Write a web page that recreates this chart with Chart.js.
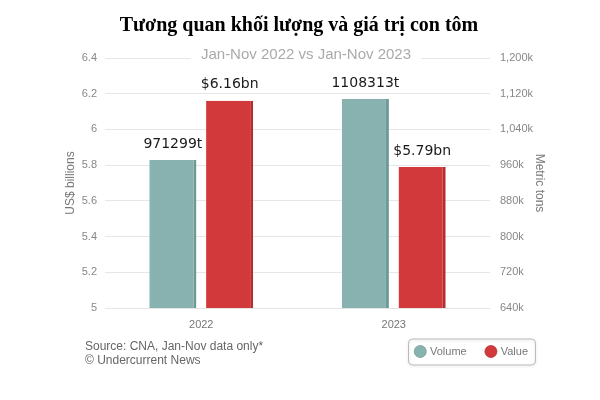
<!DOCTYPE html>
<html>
<head>
<meta charset="utf-8">
<script src="https://cdn.jsdelivr.net/npm/chart.js@4/dist/chart.umd.min.js"></script>
<style>
  html, body { margin: 0; padding: 0; background: #fff; }
  #wrap { width: 600px; height: 400px; }
</style>
</head>
<body>
<div id="wrap"><canvas id="myChart" width="600" height="400"></canvas></div>
<script>
// datos
const anios = ['2022', '2023'];
const volumen = [971299, 1108313];      // toneladas
const valor = [6.16, 5.79];             // US$ billones
const etiquetasVolumen = ['971299t', '1108313t'];
const etiquetasValor = ['$6.16bn', '$5.79bn'];
const titulo = 'Tương quan khối lượng và giá trị con tôm';
const subtitulo = 'Jan-Nov 2022 vs Jan-Nov 2023';
const fuente = ['Source: CNA, Jan-Nov data only*', '\u00A9 Undercurrent News'];

const colores = ['#88b2b0', '#d1393b'];
const lados = ['#6f9997', '#b42d2f'];   // cara lateral

// etiquetas encima de las barras, subtitulo, fuente y caja de la leyenda
const extras = {
  id: 'extras',
  afterLayout(chart) {
    // correr la leyenda a la derecha y hacia arriba
    chart.legend.left += 10;
    chart.legend.right += 10;
    chart.legend.top -= 9;
    chart.legend.bottom -= 9;
  },
  afterDatasetsDraw(chart) {
    const ctx = chart.ctx;
    const textos = [etiquetasVolumen, etiquetasValor];
    ctx.save();
    ctx.font = '14px "DejaVu Sans"';
    ctx.fillStyle = '#1a1a1a';
    ctx.textAlign = 'center';
    ctx.textBaseline = 'middle';
    chart.data.datasets.forEach((ds, i) => {
      chart.getDatasetMeta(i).data.forEach((bar, j) => {
        ctx.fillText(textos[i][j], bar.x, bar.y - 16);
      });
    });
    ctx.restore();
  },
  afterDraw(chart) {
    const ctx = chart.ctx;
    ctx.save();
    // subtitulo sobre la linea superior
    ctx.font = '15px "Liberation Sans"';
    const w = ctx.measureText(subtitulo).width;
    ctx.fillStyle = '#fff';
    ctx.fillRect(306 - w / 2 - 10, 46, w + 20, 18);
    ctx.fillStyle = '#aaaaaa';
    ctx.textAlign = 'center';
    ctx.textBaseline = 'middle';
    ctx.fillText(subtitulo, 306, 55);

    // fuente
    ctx.font = '12px "Liberation Sans"';
    ctx.fillStyle = '#666';
    ctx.textAlign = 'left';
    ctx.fillText(fuente[0], 85, 347);
    ctx.fillText(fuente[1], 85, 361);

    // caja de la leyenda
    const cajas = chart.legend.legendHitBoxes;
    if (cajas && cajas.length) {
      const x0 = cajas[0].left - 8;
      const x1 = cajas[cajas.length - 1].left + cajas[cajas.length - 1].width + 7;
      const yc = cajas[0].top + cajas[0].height / 2;
      ctx.strokeStyle = '#bbbbbb';
      ctx.lineWidth = 1;
      ctx.shadowColor = 'rgba(0,0,0,0.15)';
      ctx.shadowBlur = 3;
      ctx.shadowOffsetY = 1;
      ctx.beginPath();
      ctx.roundRect(x0 + 0.5, yc - 13 + 0.5, x1 - x0, 26, 4);
      ctx.stroke();
    }
    ctx.restore();
  }
};

const ctx = document.getElementById('myChart');

new Chart(ctx, {
  type: 'bar',
  data: {
    labels: anios,
    datasets: [
      {
        label: 'Volume',
        data: volumen,
        yAxisID: 'y1',
        backgroundColor: colores[0],
        borderColor: lados[0],
        borderWidth: { right: 3 },
        borderSkipped: false,
        categoryPercentage: 0.59,
        barPercentage: 0.83
      },
      {
        label: 'Value',
        data: valor,
        yAxisID: 'y',
        backgroundColor: colores[1],
        borderColor: lados[1],
        borderWidth: { right: 3 },
        borderSkipped: false,
        categoryPercentage: 0.59,
        barPercentage: 0.83
      }
    ]
  },
  options: {
    responsive: false,
    animation: false,
    devicePixelRatio: 1,
    layout: { padding: { left: 60, right: 62, top: 0, bottom: 24 } },
    plugins: {
      title: {
        display: true,
        text: titulo,
        color: '#000',
        font: { family: '"Liberation Serif"', size: 20, weight: 'bold' },
        padding: { top: 14, bottom: 20 }
      },
      legend: {
        position: 'bottom',
        align: 'end',
        labels: {
          usePointStyle: true,
          pointStyle: 'circle',
          boxWidth: 8.5,
          boxHeight: 8.5,
          padding: 20,
          color: '#777',
          font: { family: '"Liberation Sans"', size: 11 }
        }
      },
      tooltip: { enabled: false }
    },
    scales: {
      x: {
        grid: { display: false },
        border: { display: false },
        ticks: { color: '#777', padding: 2, font: { family: '"Liberation Sans"', size: 11 } },
        afterFit(s) { s.height = 27; }
      },
      y: {
        position: 'left',
        min: 5,
        max: 6.4,
        ticks: {
          stepSize: 0.2,
          padding: 8,
          color: '#888',
          font: { family: '"Liberation Sans"', size: 11 },
          callback: v => String(Math.round(v * 10) / 10)
        },
        grid: { color: '#e6e6e6', drawTicks: false },
        border: { display: false },
        title: {
          display: true,
          text: 'US$ billions',
          color: '#777',
          font: { family: '"Liberation Sans"', size: 12 },
          padding: { top: 3, bottom: 0 }
        },
        afterFit(s) { s.width = 45; }
      },
      y1: {
        position: 'right',
        min: 640000,
        max: 1200000,
        ticks: {
          stepSize: 80000,
          padding: 10,
          color: '#888',
          font: { family: '"Liberation Sans"', size: 11 },
          callback: v => (v / 1000).toLocaleString('en-US') + 'k'
        },
        grid: { display: false, drawTicks: false },
        border: { display: false },
        title: {
          display: true,
          text: 'Metric tons',
          color: '#777',
          font: { family: '"Liberation Sans"', size: 12 },
          padding: { top: -9, bottom: 0 }
        },
        afterFit(s) { s.width = 48; }
      }
    }
  },
  plugins: [extras]
});
</script>
</body>
</html>
